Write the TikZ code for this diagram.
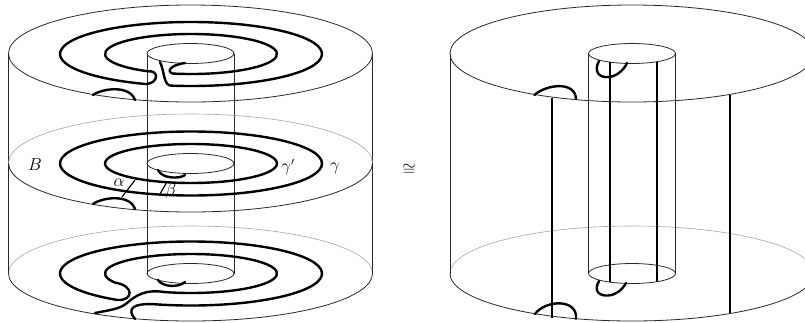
\documentclass[tikz,border=0pt]{standalone}
\usepackage{amsmath,amssymb}
\usetikzlibrary{calc}
\definecolor{rim}{RGB}{40,40,40}
\definecolor{backrim}{RGB}{165,165,165}
\tikzset{
  thinline/.style={rim,line width=0.8pt},
  backline/.style={backrim,line width=0.6pt},
  curve/.style={black,line width=2.4pt,line cap=round,line join=round},
  chord/.style={black,line width=1.2pt},
  lab/.style={font=\fontsize{16}{18}\selectfont,inner sep=0pt}
}
\begin{document}
\begin{tikzpicture}[x=1pt,y=1pt,yscale=-1]
  \clip (0,0) rectangle (805,322);
  \fill[white] (0,0) rectangle (805,322);
  % both cylinders
  \foreach \cx in {190.5,632}{
    \draw[thinline] (\cx,53.5) ellipse[x radius=182,y radius=48.5];
    \draw[thinline] (\cx,273.5) ++(-182,0) arc[start angle=180,end angle=0,x radius=182,y radius=47.5];
    \draw[backline] (\cx,273.5) ++(-182,0) arc[start angle=180,end angle=360,x radius=182,y radius=47.5];
    \draw[thinline] (\cx-182,53.5) -- (\cx-182,273.5);
    \draw[thinline] (\cx+182,53.5) -- (\cx+182,273.5);
    \draw[thinline] (\cx,53.5) ellipse[x radius=43.5,y radius=10];
    \draw[thinline] (\cx,273.5) ellipse[x radius=43.5,y radius=10];
    \draw[thinline] (\cx-43.5,53.5) -- (\cx-43.5,273.5);
    \draw[thinline] (\cx+43.5,53.5) -- (\cx+43.5,273.5);
  }
  % middle disc
  \draw[thinline] (8.5,163) arc[start angle=180,end angle=0,x radius=182,y radius=49];
  \draw[backline] (8.5,163) arc[start angle=180,end angle=360,x radius=182,y radius=49];
  \draw[thinline] (190.5,163.5) ellipse[x radius=43.5,y radius=10];
  % top spiral
  \begin{scope}[shift={(191,54)}]
    \draw[curve] (-31,8) .. controls (-26,18) and (-28,33) .. (98:131 and 32)
      arc[start angle=98,end angle=-250,x radius=131,y radius=32]
      .. controls (-32,29) and (-32,16) .. (120:86 and 20)
      arc[start angle=120,end angle=462,x radius=86,y radius=20]
      .. controls (-25,18) and (-21,11) .. (-6,9);
  \end{scope}
  % middle circles
  \draw[curve] (191,163.5) ellipse[x radius=131,y radius=32];
  \draw[curve] (191,163.5) ellipse[x radius=86,y radius=19.5];
  % bottom spiral
  \begin{scope}[shift={(191,273.5)}]
    \draw[curve] (-56,45.5) .. controls (-64,36) and (-60,29) .. (105:131 and 32)
      arc[start angle=105,end angle=-236,x radius=131,y radius=32]
      .. controls (-57,27) and (-57,12) .. (152:86 and 19.5)
      arc[start angle=152,end angle=467.6,x radius=86,y radius=19.5]
      .. controls (-46,15.5) and (-55,22) .. (-64,29.5)
      .. controls (-71,35.5) and (-81,36.5) .. (-96,39.5);
    \draw[curve] (-33,6.5) .. controls (-28,14) and (-12,14) .. (-6,8.5);
  \end{scope}
  % small arcs, left
  \draw[curve] (93,95) .. controls (103,88) and (130,85) .. (135,100);
  \draw[curve] (93,204) .. controls (103,197) and (130,194) .. (135,209);
  \draw[curve] (158,170) .. controls (162,179) and (180,179) .. (185,175);
  % arcs across the discs
  \draw[chord] (135,180) -- (122,197);
  \draw[chord] (167,182) -- (160,194);
  \node[lab] (alpha) at (119,183) {$\alpha$};
  \node[lab] (beta) at (171,191) {$\beta$};
  \node[lab] (B) at (35,165) {$B$};
  \node[lab] (gammap) at (288,167) {$\gamma'$};
  \node[lab] (gamma) at (335,168) {$\gamma$};
  \node[lab] (iso) at (409,170) {$\cong$};
  % right picture
  \foreach \px/\pa/\pb in {552/98/318,730/95/313,610/62/282,657/62/282}{
    \draw[curve,line cap=butt] (\px,\pa) -- (\px,\pb);
  }
  \draw[curve] (534.5,95) .. controls (545,85) and (575,80) .. (576,99);
  \draw[curve] (535,314) .. controls (545,300) and (578,298) .. (576,319);
  \draw[curve] (599,61) .. controls (593,72) and (600,78) .. (608,77) .. controls (616,77) and (624,70) .. (627,63);
  \draw[curve] (599,281) .. controls (593,292) and (600,296) .. (608,295.5) .. controls (616,295) and (622,290) .. (626,283);
\end{tikzpicture}
\end{document}
